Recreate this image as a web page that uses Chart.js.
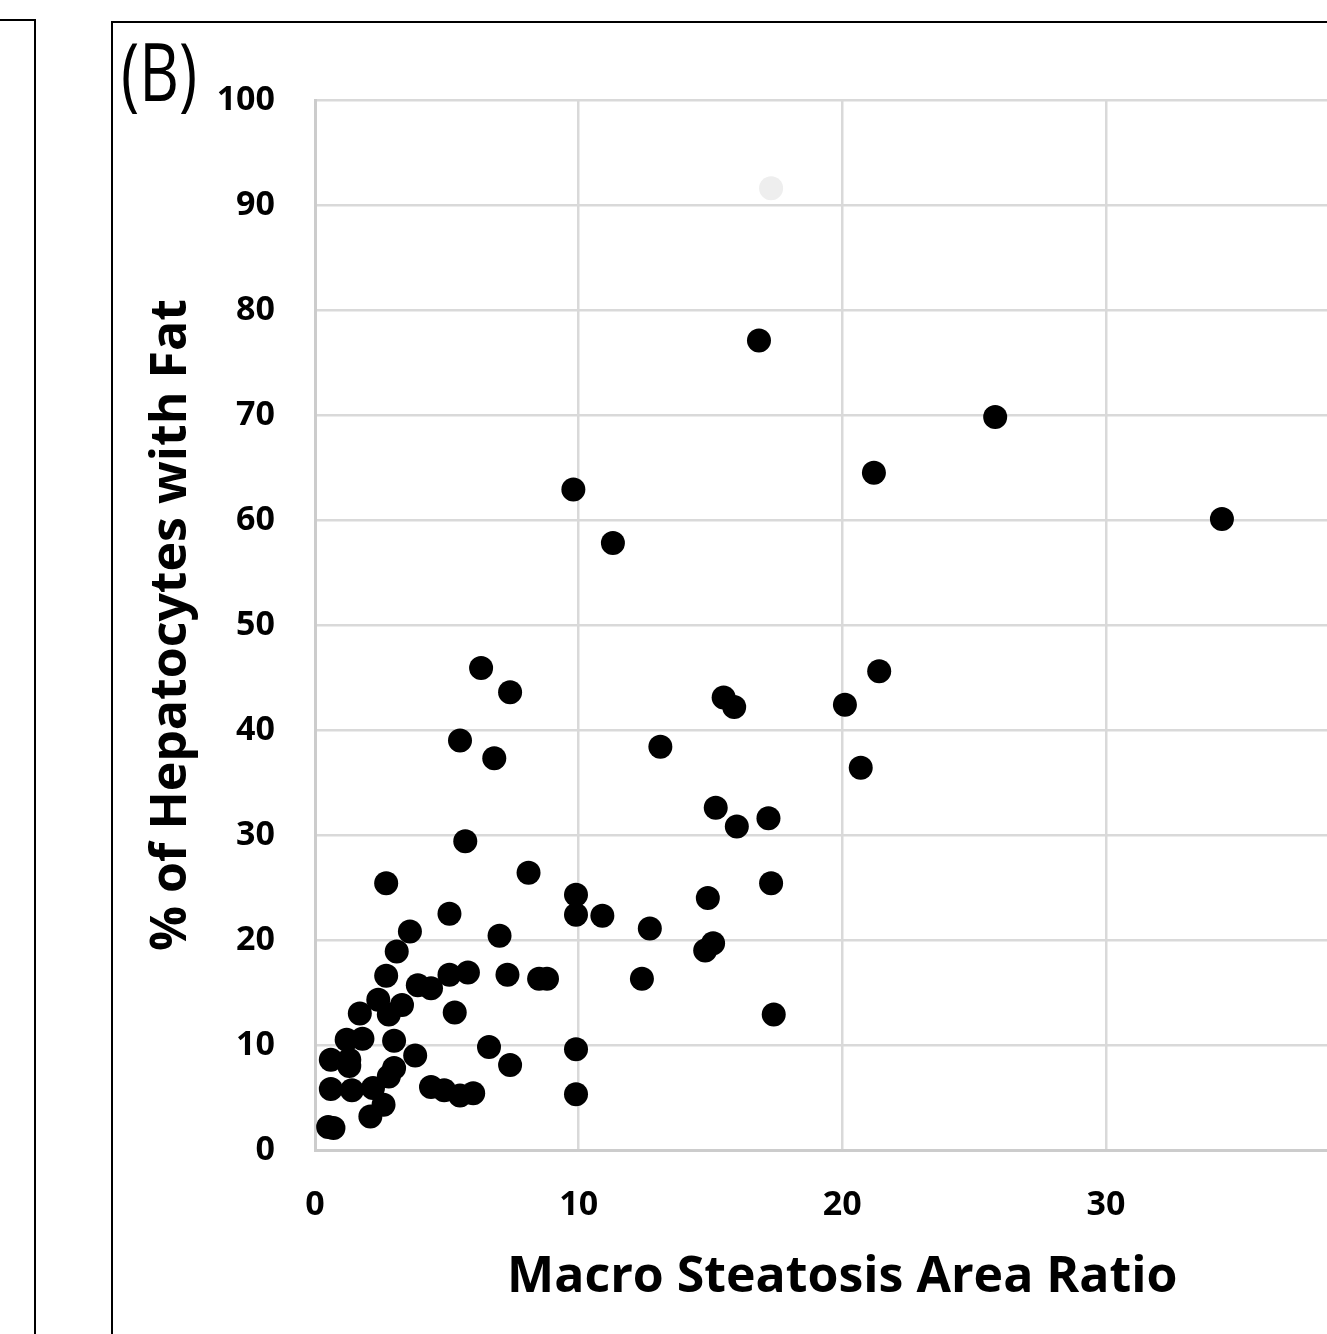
<!DOCTYPE html>
<html>
<head>
<meta charset="utf-8">
<script src="https://cdn.jsdelivr.net/npm/chart.js@4"></script>
<style>
  html, body { margin: 0; padding: 0; background: #fff; overflow: hidden; }
  body { width: 1327px; height: 1334px; position: relative; }
  #wrap { position: absolute; left: 0; top: 0; width: 1424px; height: 1334px; }
  .line { position: absolute; background: #000; }
  #tag { position: absolute; left: 121px; top: 30px; font-family: 'Open Sans'; font-size: 80px;
         line-height: 1; transform: scaleX(0.77); transform-origin: left top; color: #000; }
</style>
</head>
<body>
<div id="wrap"><canvas id="c" width="1424" height="1334"></canvas></div>
<!-- panel borders -->
<div class="line" style="left:0;top:19px;width:36px;height:2px"></div>
<div class="line" style="left:34px;top:19px;width:2px;height:1315px"></div>
<div class="line" style="left:111px;top:21px;width:1300px;height:2px"></div>
<div class="line" style="left:111px;top:21px;width:2px;height:1313px"></div>
<div id="tag">(B)</div>
<script>
// Macro steatosis area ratio vs % of hepatocytes with fat
const xValues = [16.84, 25.8, 21.2, 34.4, 9.8, 11.3, 6.3, 7.4, 21.4, 15.5,
  15.9, 20.1, 5.5, 6.8, 13.1, 20.7, 15.2, 16.0, 17.2, 5.7,
  2.7, 8.1, 17.3, 9.9, 14.9, 5.1, 9.9, 10.9, 12.7, 7.0,
  3.6, 3.1, 15.1, 14.8, 2.7, 5.1, 5.8, 7.3, 8.5, 8.8,
  12.4, 3.9, 4.4, 2.4, 3.3, 1.7, 2.8, 5.3, 17.4, 1.2,
  1.8, 3.0, 6.6, 9.9, 0.6, 1.3, 1.3, 3.8, 7.4, 3.0,
  2.8, 0.6, 1.4, 2.2, 4.4, 4.9, 5.5, 6.0, 9.9, 2.6,
  2.1, 0.5, 0.7];
const yValues = [77.1, 69.8, 64.5, 60.1, 62.9, 57.8, 45.9, 43.6, 45.6, 43.1,
  42.2, 42.4, 39.0, 37.3, 38.4, 36.4, 32.6, 30.8, 31.6, 29.4,
  25.4, 26.4, 25.4, 24.3, 24.0, 22.5, 22.4, 22.3, 21.1, 20.4,
  20.8, 18.9, 19.7, 19.0, 16.6, 16.7, 16.9, 16.7, 16.3, 16.3,
  16.3, 15.7, 15.4, 14.3, 13.8, 13.0, 12.9, 13.1, 12.9, 10.5,
  10.6, 10.4, 9.8, 9.6, 8.6, 8.6, 8.0, 9.0, 8.1, 7.8,
  7.0, 5.8, 5.7, 5.9, 6.0, 5.7, 5.2, 5.4, 5.3, 4.3,
  3.2, 2.2, 2.1];
// faint (almost white) marker near the top
const fadedX = [17.3];
const fadedY = [91.6];

const xTicks = [0, 10, 20, 30, 40];
const yMin = 0, yMax = 100, yStep = 10;

const pts = xValues.map((x, i) => ({x: x, y: yValues[i]}));
const fadedPts = fadedX.map((x, i) => ({x: x, y: fadedY[i]}));

const tickFont = {family: 'Open Sans', size: 34, weight: 'bold'};

new Chart(document.getElementById('c'), {
  type: 'scatter',
  data: {
    datasets: [{
      data: fadedPts,
      backgroundColor: '#eeeeee',
      borderWidth: 0,
      pointRadius: 12
    }, {
      data: pts,
      backgroundColor: '#000',
      borderWidth: 0,
      pointRadius: 12
    }]
  },
  options: {
    responsive: false,
    animation: false,
    events: [],
    layout: {padding: {left: 0, top: 100, right: 31, bottom: 0}},
    plugins: {legend: {display: false}, tooltip: {enabled: false}},
    scales: {
      x: {
        type: 'linear',
        min: xTicks[0],
        max: xTicks[xTicks.length - 1],
        afterBuildTicks: s => { s.ticks = xTicks.map(v => ({value: v})); },
        afterFit: s => { s.height = 184; },
        grid: {color: '#d9d9d9', lineWidth: 2.5, drawTicks: false},
        border: {color: '#cccccc', width: 3},
        ticks: {color: '#000', font: tickFont, padding: 35, maxRotation: 0},
        title: {
          display: true,
          text: 'Macro Steatosis Area Ratio',
          color: '#000',
          font: {family: 'Open Sans', size: 50, weight: 'bold'},
          padding: {top: 0, bottom: 26}
        }
      },
      y: {
        min: yMin,
        max: yMax,
        afterFit: s => { s.width = 315; },
        grid: {color: '#d9d9d9', lineWidth: 2.5, drawTicks: false},
        border: {color: '#cccccc', width: 3},
        ticks: {stepSize: yStep, color: '#000', font: tickFont, padding: 40},
        title: {
          display: true,
          text: '% of Hepatocytes with Fat',
          color: '#000',
          font: {family: 'Open Sans', size: 50, weight: 'bold'},
          padding: {top: 142, bottom: 0}
        }
      }
    }
  }
});
</script>
</body>
</html>
